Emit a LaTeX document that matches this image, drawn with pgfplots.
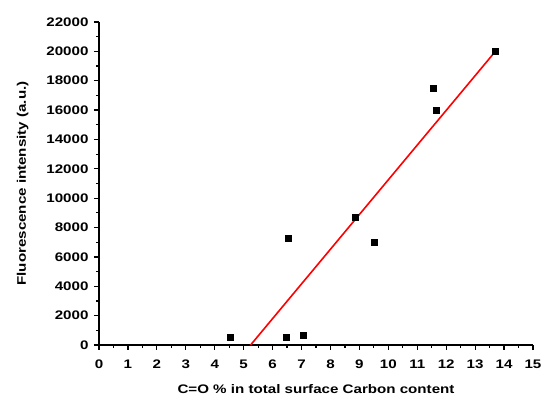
\documentclass[border=0pt]{standalone}
\usepackage{fontspec}
\setmainfont[FakeStretch=1.22]{Liberation Sans}
\usepackage{pgfplots}
\pgfplotsset{compat=1.18}
\begin{document}
\begin{tikzpicture}
\useasboundingbox (-99pt,-50pt) rectangle (442pt,345pt);
\begin{axis}[
  scale only axis,
  width=434pt, height=323pt,
  xmin=0, xmax=15, ymin=0, ymax=22000,
  axis lines*=left,
  axis line style={line width=1.4pt},
  xtick={0,1,...,15},
  xticklabels={0,1,2,3,4,5,6,7,8,9,10,11,12,13,14,15},
  ytick={0,2000,...,22000},
  yticklabels={0,2000,4000,6000,8000,10000,12000,14000,16000,18000,20000,22000},
  minor x tick num=1, minor y tick num=1,
  tick align=outside,
  major tick length=5pt, minor tick length=3pt,
  tick style={line width=1.2pt, black},
  scaled y ticks=false,
  tick label style={font=\fontsize{12.4}{13}\selectfont\bfseries},
  xticklabel style={yshift=-6pt},
  yticklabel style={xshift=-2pt},
  xlabel={C=O \% in total surface Carbon content},
  ylabel={Fluorescence intensity (a.u.)},
  label style={font=\fontsize{12.4}{13}\selectfont\bfseries},
  xlabel style={yshift=-9pt},
  ylabel style={yshift=11pt},
  clip=false,
]
\addplot[only marks, mark=square*, mark size=3pt, black] coordinates {
  (4.55,500) (6.46,500) (6.54,7270) (7.06,640) (8.87,8680)
  (9.50,7000) (11.55,17500) (11.64,16000) (13.70,20000)
};
\addplot[red, line width=1.6pt] coordinates {(5.24,0) (13.70,20000)};
\end{axis}
\end{tikzpicture}
\end{document}
